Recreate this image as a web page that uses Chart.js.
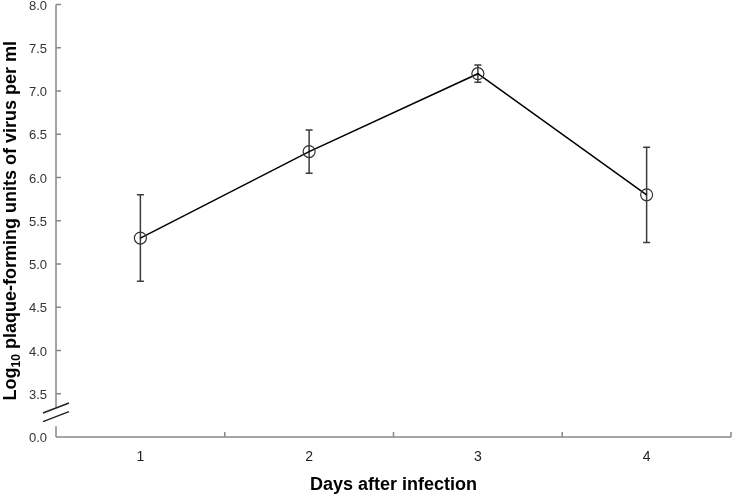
<!DOCTYPE html>
<html>
<head>
<meta charset="utf-8">
<script src="https://cdn.jsdelivr.net/npm/chart.js@4.4.1/dist/chart.umd.min.js"></script>
<style>
  html, body { margin: 0; padding: 0; background: #fff; }
</style>
</head>
<body>
<canvas id="titerChart" width="732" height="495"></canvas>
<script>
// data
const days = ['1', '2', '3', '4'];
const titerMean = [5.3, 6.3, 7.2, 5.8];
const titerErr = [0.5, 0.25, 0.1, 0.55];

// y axis is broken: the bottom tick really stands for 0.0
const yTicks = [3.0, 3.5, 4.0, 4.5, 5.0, 5.5, 6.0, 6.5, 7.0, 7.5, 8.0];
const yTickLabels = ['0.0', '3.5', '4.0', '4.5', '5.0', '5.5', '6.0', '6.5', '7.0', '7.5', '8.0'];

const axisColor = '#888888';
const textFont = "'Liberation Sans', Arial, sans-serif";

// error bars, drawn under the line and markers
const errorBars = {
    id: 'errorBars',
    beforeDatasetsDraw(chart) {
        const { ctx, scales: { x, y } } = chart;
        ctx.save();
        ctx.strokeStyle = '#3c3c3c';
        ctx.lineWidth = 1.5;
        titerMean.forEach((m, i) => {
            const px = x.getPixelForValue(i);
            const top = y.getPixelForValue(m + titerErr[i]);
            const bot = y.getPixelForValue(m - titerErr[i]);
            ctx.beginPath();
            ctx.moveTo(px, top); ctx.lineTo(px, bot);
            ctx.moveTo(px - 3.5, top); ctx.lineTo(px + 3.5, top);
            ctx.moveTo(px - 3.5, bot); ctx.lineTo(px + 3.5, bot);
            ctx.stroke();
        });
        ctx.restore();
    }
};

// axis lines with inside ticks and the // break on the y axis
const axisDecor = {
    id: 'axisDecor',
    afterDraw(chart) {
        const { ctx, chartArea: a, scales: { x, y } } = chart;
        const ax = a.left;
        ctx.save();
        ctx.strokeStyle = axisColor;
        ctx.lineWidth = 1.5;
        ctx.beginPath();
        ctx.moveTo(ax, a.top); ctx.lineTo(ax, y.getPixelForValue(3.34));
        ctx.moveTo(ax, y.getPixelForValue(3.125)); ctx.lineTo(ax, a.bottom);
        ctx.moveTo(ax, a.bottom); ctx.lineTo(a.right, a.bottom);
        yTicks.forEach(v => {
            const py = y.getPixelForValue(v);
            ctx.moveTo(ax, py); ctx.lineTo(ax + 5, py);
        });
        for (let i = 0; i <= days.length; i++) {
            const px = x.getPixelForValue(i - 0.5);
            ctx.moveTo(px, a.bottom); ctx.lineTo(px, a.bottom - 5);
        }
        ctx.stroke();

        ctx.strokeStyle = '#222';
        [3.336, 3.235].forEach(v => {
            const py = y.getPixelForValue(v);
            ctx.beginPath();
            ctx.moveTo(ax - 13, py + 5);
            ctx.lineTo(ax + 13, py - 5);
            ctx.stroke();
        });
        ctx.restore();
    }
};

// y title with a subscript 10
const yTitle = {
    id: 'yTitle',
    afterDraw(chart) {
        const { ctx, chartArea: a } = chart;
        const big = `bold 18px ${textFont}`;
        const small = `bold 12px ${textFont}`;
        const parts = [
            { t: 'Log', f: big, dy: 0 },
            { t: '10', f: small, dy: 4 },
            { t: ' plaque-forming units of virus per ml', f: big, dy: 0 }
        ];
        ctx.save();
        let total = 0;
        parts.forEach(p => { ctx.font = p.f; p.w = ctx.measureText(p.t).width; total += p.w; });
        ctx.translate(16, (a.top + a.bottom) / 2);
        ctx.rotate(-Math.PI / 2);
        ctx.fillStyle = '#000';
        ctx.textBaseline = 'alphabetic';
        ctx.textAlign = 'left';
        let cx = -total / 2;
        parts.forEach(p => {
            ctx.font = p.f;
            ctx.fillText(p.t, cx, p.dy);
            cx += p.w;
        });
        ctx.restore();
    }
};

const ctx = document.getElementById('titerChart').getContext('2d');
new Chart(ctx, {
    type: 'line',
    data: {
        labels: days,
        datasets: [{
            data: titerMean,
            borderColor: '#000',
            borderWidth: 1.5,
            pointRadius: 6,
            pointHoverRadius: 6,
            pointBorderWidth: 1.2,
            pointBorderColor: '#333',
            pointBackgroundColor: 'rgba(0,0,0,0)',
            tension: 0,
            fill: false
        }]
    },
    options: {
        responsive: false,
        animation: false,
        devicePixelRatio: 1,
        layout: { autoPadding: false, padding: { left: 0, right: 1, top: 4.5, bottom: 0 } },
        plugins: {
            legend: { display: false },
            tooltip: { enabled: false }
        },
        scales: {
            x: {
                type: 'category',
                offset: true,
                grid: { display: false, drawTicks: false },
                border: { display: false },
                ticks: {
                    color: '#222',
                    padding: 12,
                    font: { family: textFont, size: 14 }
                },
                title: {
                    display: true,
                    text: 'Days after infection',
                    color: '#000',
                    padding: { top: 0, bottom: 1 },
                    font: { family: textFont, size: 18, weight: 'bold', lineHeight: 1 }
                },
                afterFit: s => { s.height = 58; s.paddingLeft = 0; s.paddingRight = 0; }
            },
            y: {
                min: 3,
                max: 8,
                grid: { display: false, drawTicks: false },
                border: { display: false },
                afterBuildTicks: s => { s.ticks = yTicks.map(v => ({ value: v })); },
                ticks: {
                    color: '#333',
                    padding: 9,
                    labelOffset: 1.5,
                    font: { family: textFont, size: 13 },
                    callback: (v) => yTickLabels[yTicks.indexOf(v)]
                },
                afterFit: s => { s.width = 56; s.paddingTop = 0; s.paddingBottom = 0; }
            }
        }
    },
    plugins: [errorBars, axisDecor, yTitle]
});
</script>
</body>
</html>
